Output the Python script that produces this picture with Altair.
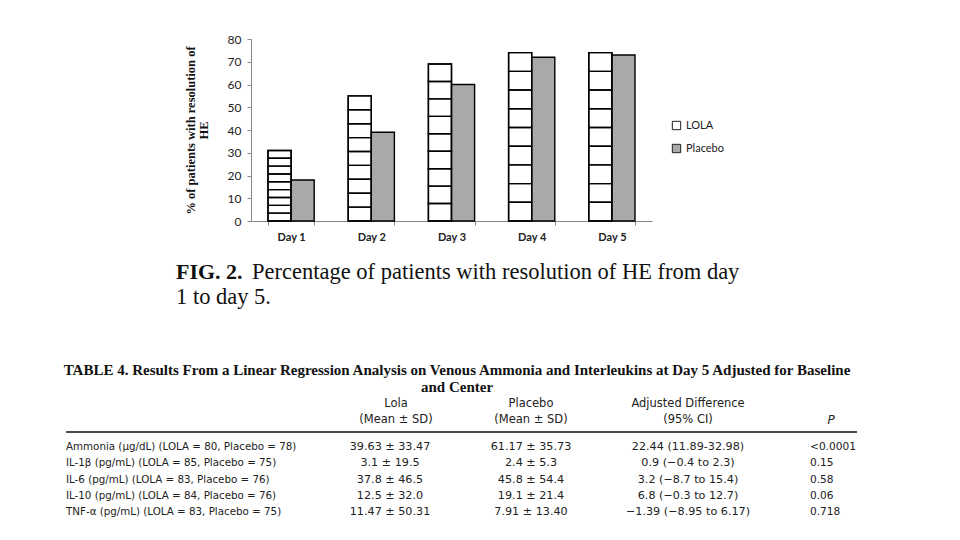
import altair as alt
import pandas as pd

# ---------------- data ----------------
days = ["Day 1", "Day 2", "Day 3", "Day 4", "Day 5"]
groups = ["LOLA", "Placebo"]
lola = [31, 55, 69, 74, 74]
placebo = [18, 39, 60, 72, 73]

y_title = ["% of patients  with resolution of", "HE"]
caption_bold = "FIG. 2."
caption_line1 = "Percentage of patients with resolution of HE from day"
caption_line2 = "1 to day 5."

table_title = ["TABLE 4. Results From a Linear Regression Analysis on Venous Ammonia and Interleukins at Day 5 Adjusted for Baseline",
               "and Center"]
row_labels = ["Ammonia (μg/dL) (LOLA = 80, Placebo = 78)",
              "IL-1β (pg/mL) (LOLA = 85, Placebo = 75)",
              "IL-6 (pg/mL) (LOLA = 83, Placebo = 76)",
              "IL-10 (pg/mL) (LOLA = 84, Placebo = 76)",
              "TNF-α (pg/mL) (LOLA = 83, Placebo = 75)"]
lola_vals = ["39.63 ± 33.47", "3.1 ± 19.5", "37.8 ± 46.5", "12.5 ± 32.0", "11.47 ± 50.31"]
placebo_vals = ["61.17 ± 35.73", "2.4 ± 5.3", "45.8 ± 54.4", "19.1 ± 21.4", "7.91 ± 13.40"]
diff_vals = ["22.44 (11.89-32.98)", "0.9 (−0.4 to 2.3)", "3.2 (−8.7 to 15.4)",
             "6.8 (−0.3 to 12.7)", "−1.39 (−8.95 to 6.17)"]
p_vals = ["<0.0001", "0.15", "0.58", "0.06", "0.718"]
head_lola = ["Lola", "(Mean ± SD)"]
head_placebo = ["Placebo", "(Mean ± SD)"]
head_diff = ["Adjusted Difference", "(95% CI)"]
head_p = "P"

# ---------------- tables built from arrays ----------------
bars_df = pd.DataFrame({"day": days * 2,
                        "group": [groups[0]] * len(days) + [groups[1]] * len(days),
                        "value": lola + placebo})
N_SEG = 9
seg_rows = []
for d, v in zip(days, lola):
    for k in range(N_SEG):
        seg_rows.append({"day": d, "group": groups[0], "value": v * k / N_SEG, "hi": v * (k + 1) / N_SEG})
seg_df = pd.DataFrame(seg_rows)
tab_df = pd.DataFrame({"row": row_labels, "lola": lola_vals, "placebo": placebo_vals,
                       "diff": diff_vals, "p": p_vals})

W, H = 944, 524
SANS = "Lato"
SERIF = "Liberation Serif"
TAB = "DejaVu Sans"

x_scale = alt.Scale(domain=days, range=[243, 644], paddingInner=0.424, paddingOuter=0.212)
xo_scale = alt.Scale(domain=groups, paddingInner=0, paddingOuter=0)
y_scale = alt.Scale(domain=[0, 80], range=[213, 31], nice=False)

x_axis = alt.Axis(title=None, orient="bottom", offset=-311, tickBand="extent",
                  tickSize=4, tickColor="#888", domainColor="#888",
                  labelFont=SANS, labelFontWeight="bold", labelFontSize=11,
                  labelColor="#222", labelPadding=6, labelAngle=0)
y_axis = alt.Axis(values=list(range(0, 81, 10)), offset=-243, grid=False, orient="left",
                  tickSize=4, tickColor="#888", domainColor="#888",
                  labelFont=SANS, labelFontSize=12, labelColor="#222", labelPadding=6,
                  title=y_title, titleFont=SERIF, titleFontWeight="bold",
                  titleFontSize=12.5, titleColor="#111", titlePadding=17, titleLineHeight=13)

main = alt.Chart(bars_df).mark_bar(stroke="black", strokeWidth=1.4).encode(
    x=alt.X("day:N", sort=days, scale=x_scale, axis=x_axis),
    xOffset=alt.XOffset("group:N", scale=xo_scale),
    y=alt.Y("value:Q", scale=y_scale, axis=y_axis),
    fill=alt.Fill("group:N", scale=alt.Scale(domain=groups, range=["white", "#a9a9a9"]),
                  legend=alt.Legend(title=None, orient="none", legendX=663, legendY=112,
                                    symbolType="square", symbolSize=70,
                                    symbolStrokeColor="#222", symbolStrokeWidth=1,
                                    labelFont=SANS, labelFontSize=11, labelColor="#222",
                                    rowPadding=10)),
)

segs = alt.Chart(seg_df).mark_bar(fillOpacity=0, stroke="black", strokeWidth=1.4).encode(
    x=alt.X("day:N", sort=days, scale=x_scale, axis=x_axis),
    xOffset=alt.XOffset("group:N", scale=xo_scale),
    y=alt.Y("value:Q", scale=y_scale, axis=y_axis),
    y2="hi:Q",
)

bars_group = alt.layer(main, segs)

# ---------------- table ----------------
row_y = alt.Y("row:N", scale=alt.Scale(type="point", domain=row_labels, range=[439, 504], padding=0),
              axis=None)
tbase = alt.Chart(tab_df)
lstyle = dict(font=TAB, fontSize=10.3, color="#222", baseline="middle")
vstyle = dict(font=TAB, fontSize=11.2, color="#222", baseline="middle")
t_label = tbase.mark_text(align="left", **lstyle).encode(x=alt.value(58), y=row_y, text="row:N")
t_lola = tbase.mark_text(align="center", **vstyle).encode(x=alt.value(382), y=row_y, text="lola:N")
t_plac = tbase.mark_text(align="center", **vstyle).encode(x=alt.value(523), y=row_y, text="placebo:N")
t_diff = tbase.mark_text(align="center", **vstyle).encode(x=alt.value(680), y=row_y, text="diff:N")
t_p = tbase.mark_text(align="left", font=TAB, fontSize=10.6, color="#222", baseline="middle").encode(
    x=alt.value(802), y=row_y, text="p:N")
table_group = alt.layer(t_label, t_lola, t_plac, t_diff, t_p)

one = alt.Chart(pd.DataFrame({"k": [0]}))
hstyle = dict(font=TAB, fontSize=11.5, color="#222", baseline="middle", lineHeight=15.5,
              align="center")
h_lola = one.mark_text(text=head_lola, **hstyle).encode(x=alt.value(388), y=alt.value(396))
h_plac = one.mark_text(text=head_placebo, **hstyle).encode(x=alt.value(523), y=alt.value(396))
h_diff = one.mark_text(text=head_diff, **hstyle).encode(x=alt.value(680), y=alt.value(396))
h_p = one.mark_text(text=head_p, font=TAB, fontSize=12, fontStyle="italic", color="#222",
                    baseline="middle", align="center").encode(x=alt.value(823), y=alt.value(412))
rule = one.mark_rule(color="#111", strokeWidth=1.3).encode(
    x=alt.value(58), x2=alt.value(849), y=alt.value(424))
t_title = one.mark_text(text=table_title, font=SERIF, fontSize=15, fontWeight="bold", color="#111",
                        align="center", baseline="middle", lineHeight=17).encode(
    x=alt.value(449), y=alt.value(362))

cap_b = one.mark_text(text=caption_bold, font=SERIF, fontSize=22, fontWeight="bold", color="#111",
                      align="left", baseline="middle").encode(
    x=alt.value(168), y=alt.value(264))
cap_1 = one.mark_text(text=caption_line1, font=SERIF, fontSize=22.5, color="#111",
                      align="left", baseline="middle").encode(
    x=alt.value(244), y=alt.value(264))
cap_2 = one.mark_text(text=caption_line2, font=SERIF, fontSize=22.5, color="#111",
                      align="left", baseline="middle").encode(
    x=alt.value(168), y=alt.value(289))

chart = alt.layer(bars_group, table_group, h_lola, h_plac, h_diff, h_p, rule, t_title,
                  cap_b, cap_1, cap_2).resolve_scale(
    x="independent", y="independent"
).properties(width=W, height=H, autosize="none", padding=0, background="white"
).configure_view(stroke=None)

chart.save("out.html", embed_options={"renderer": "svg", "actions": False})
